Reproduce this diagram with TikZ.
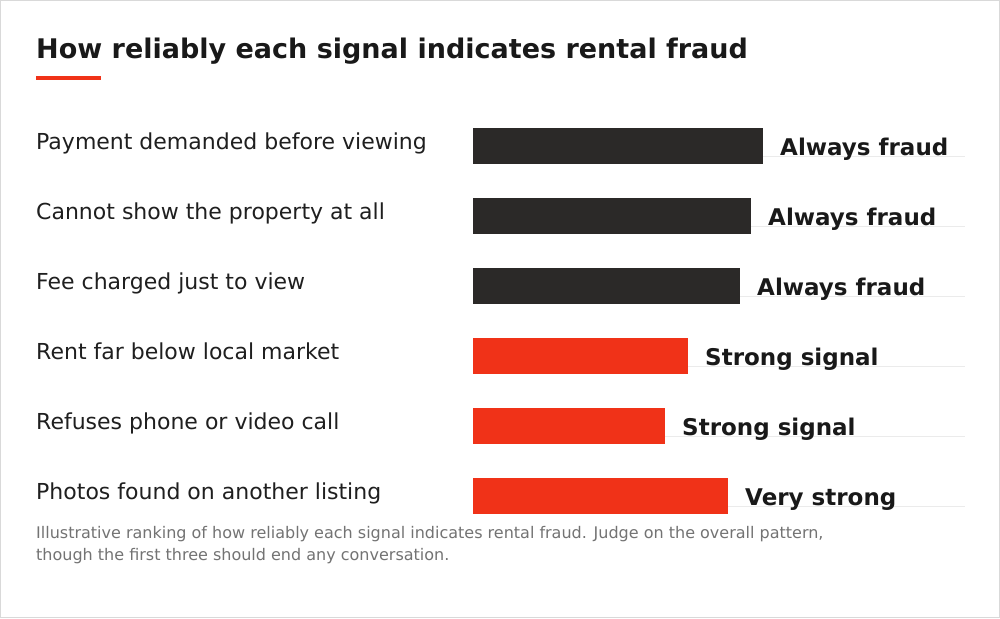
\documentclass[tikz,border=0pt]{standalone}
\usepackage{fontspec}
\setmainfont{DejaVu Sans}
\begin{document}
\begin{tikzpicture}[x=1pt,y=-1pt,
  lab/.style={anchor=base west,font=\fontsize{22}{26}\selectfont,text=black!88,inner sep=0},
  val/.style={anchor=base west,font=\bfseries\fontsize{23}{27}\selectfont,text=black!90,inner sep=0},
  bar/.style={draw=none}]
\definecolor{dk}{HTML}{2B2928}\definecolor{rd}{HTML}{F03218}
\fill[white] (0,0) rectangle (1000,618);
\draw[black!15] (0.5,0.5) rectangle (999.5,617.5);
\node[anchor=base west,inner sep=0,font=\bfseries\fontsize{27}{32}\selectfont,text=black!90] (t) at (36,59) {How reliably each signal indicates rental fraud};
\fill[rd] (36,76) rectangle (101,80);
\foreach \i/\w/\c/\l/\v in {0/763/dk/{Payment demanded before viewing}/{Always fraud},
 1/751/dk/{Cannot show the property at all}/{Always fraud},
 2/740/dk/{Fee charged just to view}/{Always fraud},
 3/688/rd/{Rent far below local market}/{Strong signal},
 4/665/rd/{Refuses phone or video call}/{Strong signal},
 5/728/rd/{Photos found on another listing}/{Very strong}}{
  \pgfmathsetmacro\y{128+70*\i}
  \draw[black!8] (\w,\y+28) -- (965,\y+28);
  \fill[\c] (473,\y) rectangle (\w,\y+36);
  \node[lab] (l\i) at (36,\y+21) {\l};
  \node[val] (v\i) at (\w+17,\y+27) {\v};
}
\node[anchor=base west,inner sep=0,align=left,text=black!55,font=\fontsize{16}{22}\selectfont] (n) at (36,560) {Illustrative ranking of how reliably each signal indicates rental fraud. Judge on the overall pattern,\\though the first three should end any conversation.};
\end{tikzpicture}
\end{document}
